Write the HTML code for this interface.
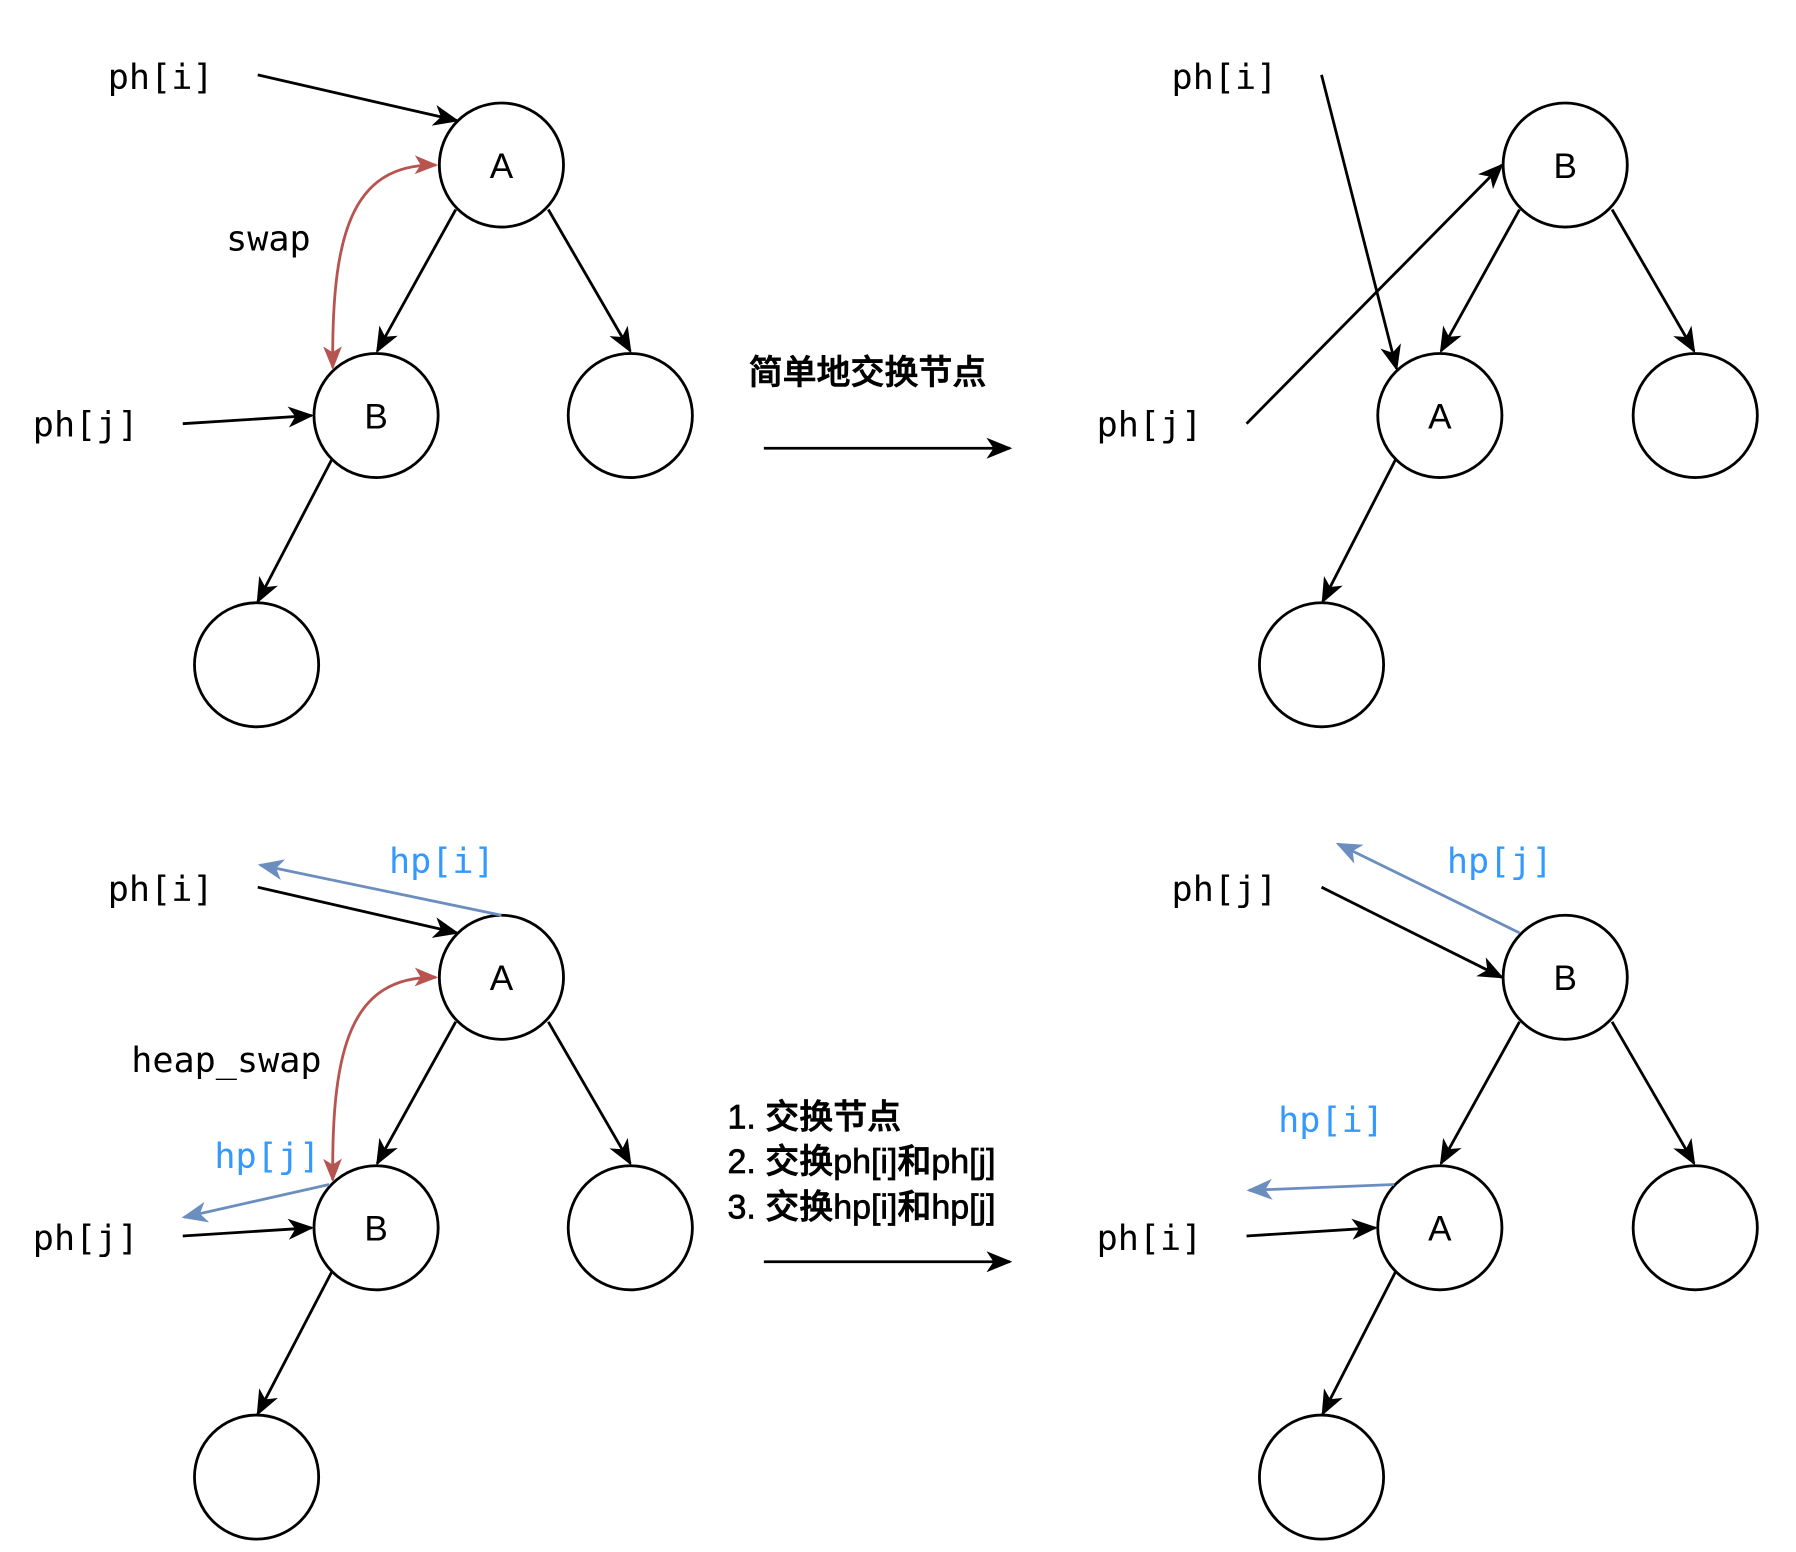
<!DOCTYPE html>
<html><head><meta charset="utf-8"><style>html,body{margin:0;padding:0;background:#fff}svg{display:block}</style></head><body>
<svg width="1796" height="1552" viewBox="0 0 1533 1326" preserveAspectRatio="none" xmlns="http://www.w3.org/2000/svg">
<defs>
<marker id="kb" markerWidth="22" markerHeight="22" refX="20" refY="11" orient="auto" markerUnits="userSpaceOnUse"><path d="M0,2 L22,11 L0,20 L6,11 Z" fill="#000"/></marker>
<marker id="rb" markerWidth="20" markerHeight="20" refX="18" refY="10" orient="auto" markerUnits="userSpaceOnUse"><path d="M0,2 L20,10 L0,18 L5,10 Z" fill="#b85450"/></marker>
<marker id="rs" markerWidth="20" markerHeight="20" refX="18" refY="10" orient="auto-start-reverse" markerUnits="userSpaceOnUse"><path d="M0,2 L20,10 L0,18 L5,10 Z" fill="#b85450"/></marker>
<marker id="bb" markerWidth="22" markerHeight="22" refX="20" refY="11" orient="auto" markerUnits="userSpaceOnUse"><path d="M0,2 L22,11 L0,20 L6,11 Z" fill="#6c8ebf"/></marker>
</defs>
<g fill="none" stroke="#000" stroke-width="2.4">
<circle cx="428" cy="141" r="53"/><circle cx="321" cy="355" r="53"/><circle cx="538" cy="355" r="53"/><circle cx="219" cy="568" r="53"/>
<line x1="389" y1="179" x2="322" y2="300" marker-end="url(#kb)"/>
<line x1="468" y1="179" x2="538" y2="300" marker-end="url(#kb)"/>
<line x1="283" y1="393" x2="220" y2="514" marker-end="url(#kb)"/>
<line x1="220" y1="64" x2="390" y2="103" marker-end="url(#kb)"/>
<line x1="156" y1="362" x2="266" y2="355" marker-end="url(#kb)"/>
<circle cx="1336" cy="141" r="53"/><circle cx="1229" cy="355" r="53"/><circle cx="1447" cy="355" r="53"/><circle cx="1128" cy="568" r="53"/>
<line x1="1297" y1="179" x2="1230" y2="300" marker-end="url(#kb)"/>
<line x1="1376" y1="179" x2="1446" y2="300" marker-end="url(#kb)"/>
<line x1="1191" y1="393" x2="1129" y2="514" marker-end="url(#kb)"/>
<line x1="1128" y1="64" x2="1192" y2="315" marker-end="url(#kb)"/>
<line x1="1064" y1="362" x2="1282" y2="141" marker-end="url(#kb)"/>
<line x1="652" y1="383" x2="862" y2="383" marker-end="url(#kb)"/>
<circle cx="428" cy="835" r="53"/><circle cx="321" cy="1049" r="53"/><circle cx="538" cy="1049" r="53"/><circle cx="219" cy="1262" r="53"/>
<line x1="389" y1="873" x2="322" y2="994" marker-end="url(#kb)"/>
<line x1="468" y1="873" x2="538" y2="994" marker-end="url(#kb)"/>
<line x1="283" y1="1087" x2="220" y2="1208" marker-end="url(#kb)"/>
<line x1="220" y1="758" x2="390" y2="797" marker-end="url(#kb)"/>
<line x1="156" y1="1056" x2="266" y2="1049" marker-end="url(#kb)"/>
<line x1="652" y1="1078" x2="862" y2="1078" marker-end="url(#kb)"/>
<circle cx="1336" cy="835" r="53"/><circle cx="1229" cy="1049" r="53"/><circle cx="1447" cy="1049" r="53"/><circle cx="1128" cy="1262" r="53"/>
<line x1="1297" y1="873" x2="1230" y2="994" marker-end="url(#kb)"/>
<line x1="1376" y1="873" x2="1446" y2="994" marker-end="url(#kb)"/>
<line x1="1191" y1="1087" x2="1129" y2="1208" marker-end="url(#kb)"/>
<line x1="1128" y1="758" x2="1282" y2="835" marker-end="url(#kb)"/>
<line x1="1064" y1="1056" x2="1174" y2="1049" marker-end="url(#kb)"/>
</g>
<g fill="none" stroke="#b85450" stroke-width="2.4">
<path d="M372,141 C300,140 283,200 284,314" marker-start="url(#rs)" marker-end="url(#rb)"/>
<path d="M372,835 C300,834 283,894 284,1008" marker-start="url(#rs)" marker-end="url(#rb)"/>
</g>
<g fill="none" stroke="#6c8ebf" stroke-width="2.4">
<line x1="428" y1="782" x2="222" y2="739" marker-end="url(#bb)"/>
<line x1="281" y1="1012" x2="157" y2="1040" marker-end="url(#bb)"/>
<line x1="1297" y1="797" x2="1142" y2="721" marker-end="url(#bb)"/>
<line x1="1190" y1="1012" x2="1066" y2="1017" marker-end="url(#bb)"/>
</g>
<g font-family="Liberation Sans, sans-serif" font-size="30" text-anchor="middle">
<text x="428" y="152">A</text><text x="321" y="366">B</text>
<text x="1336" y="152">B</text><text x="1229" y="366">A</text>
<text x="428" y="846">A</text><text x="321" y="1060">B</text>
<text x="1336" y="846">B</text><text x="1229" y="1060">A</text>
</g>
<g font-family="DejaVu Sans Mono, Liberation Mono, monospace" font-size="30">
<text x="92" y="76">ph[i]</text><text x="28" y="373">ph[j]</text><text x="193" y="214">swap</text>
<text x="1000" y="76">ph[i]</text><text x="936" y="373">ph[j]</text>
<text x="92" y="770">ph[i]</text><text x="28" y="1068">ph[j]</text><text x="112" y="916">heap_swap</text>
<text x="1000" y="770">ph[j]</text><text x="936" y="1068">ph[i]</text>
<g fill="#3399ff"><text x="332" y="746">hp[i]</text><text x="183" y="998">hp[j]</text><text x="1235" y="746">hp[j]</text><text x="1091" y="967">hp[i]</text></g>
</g>
<g font-family="Liberation Sans, Noto Sans CJK SC, sans-serif" font-size="29" font-weight="500" stroke="#000" stroke-width="0.6">
<text x="639" y="328">简单地交换节点</text>
<text x="621" y="964">1. 交换节点</text>
<text x="621" y="1002">2. 交换ph[i]和ph[j]</text>
<text x="621" y="1041">3. 交换hp[i]和hp[j]</text>
</g>
</svg>
</body></html>
